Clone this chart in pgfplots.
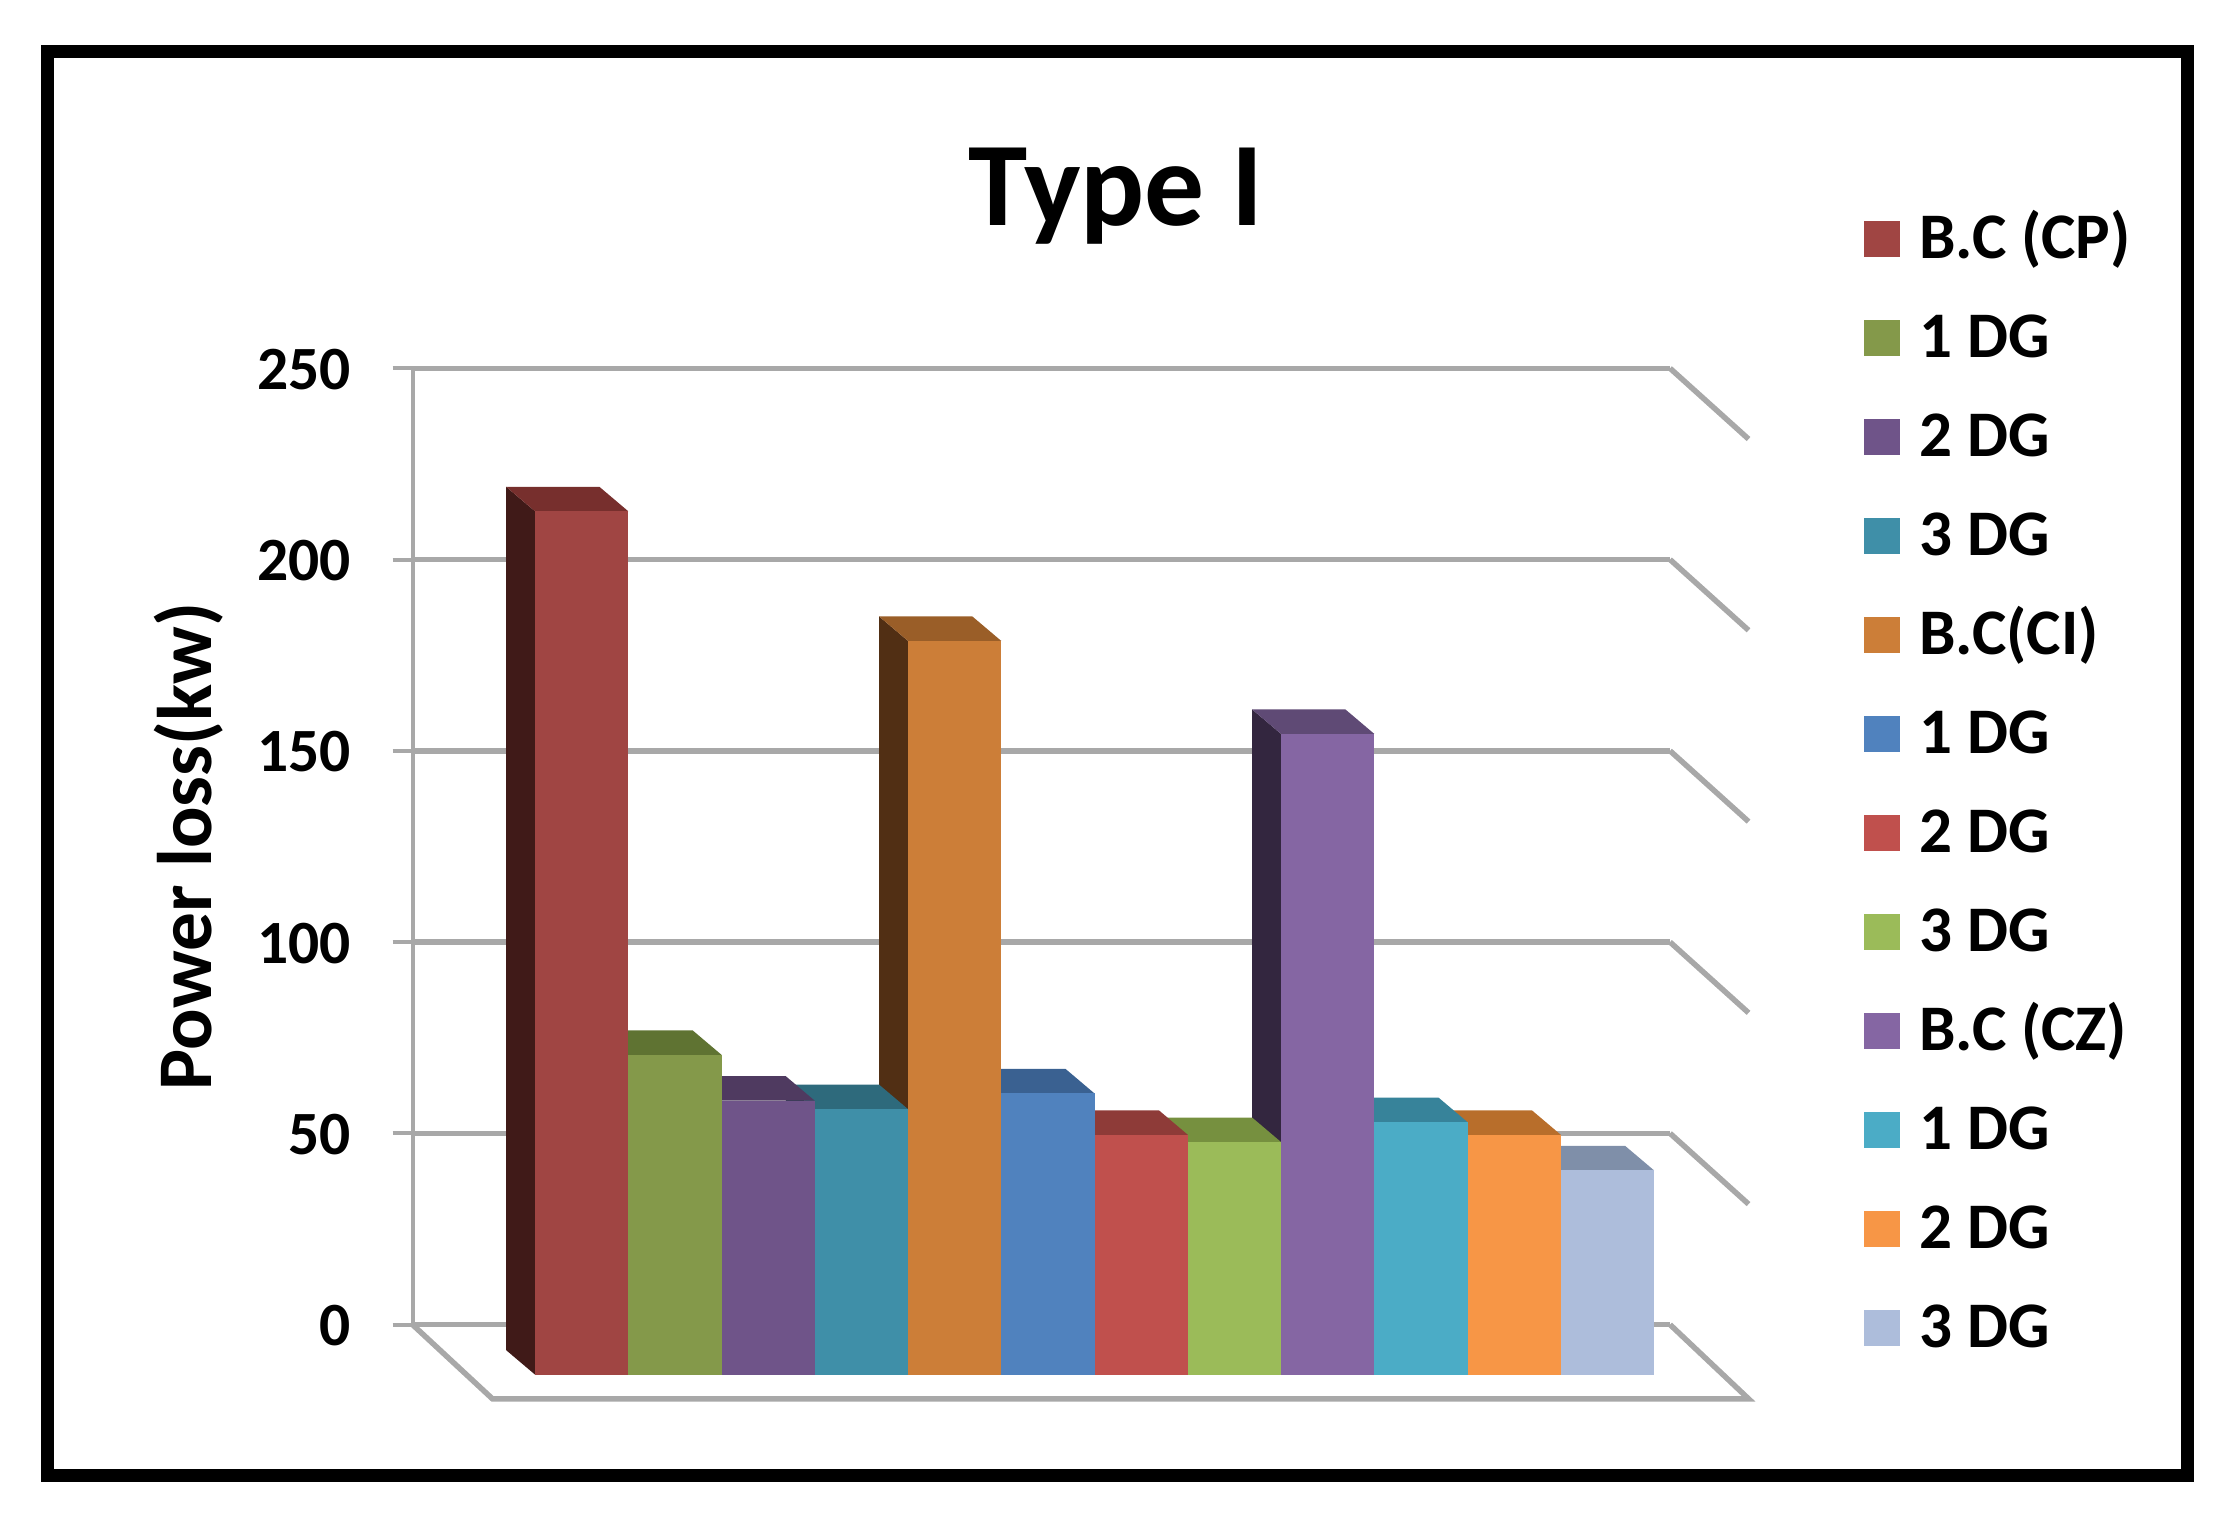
\documentclass[border=0pt]{standalone}
\usepackage{fontspec}
\setmainfont{Carlito}
\usepackage{pgfplots}
\pgfplotsset{compat=1.18}
\definecolor{gridc}{HTML}{A8A8A8}
\definecolor{fa}{HTML}{A04543}\definecolor{ta}{HTML}{772F2D}\definecolor{sa}{HTML}{401A18}
\definecolor{fb}{HTML}{84994A}\definecolor{tb}{HTML}{5F7332}\definecolor{sb}{HTML}{3F4D20}
\definecolor{fc}{HTML}{6F5489}\definecolor{tc}{HTML}{4F3A60}\definecolor{sc}{HTML}{30233B}
\definecolor{fd}{HTML}{3F8FA8}\definecolor{td}{HTML}{2E6A7C}\definecolor{sd}{HTML}{1C414D}
\definecolor{fe}{HTML}{CC7E38}\definecolor{te}{HTML}{9A5E28}\definecolor{se}{HTML}{512F14}
\definecolor{ff}{HTML}{5082BE}\definecolor{tf}{HTML}{3A6191}\definecolor{sf}{HTML}{233B58}
\definecolor{fg}{HTML}{C0504D}\definecolor{tg}{HTML}{8E3B38}\definecolor{sg}{HTML}{562322}
\definecolor{fh}{HTML}{9BBB59}\definecolor{th}{HTML}{76903F}\definecolor{sh}{HTML}{475726}
\definecolor{fi}{HTML}{8566A3}\definecolor{ti}{HTML}{5F4A75}\definecolor{si}{HTML}{33263F}
\definecolor{fj}{HTML}{4BACC6}\definecolor{tj}{HTML}{37839A}\definecolor{sj}{HTML}{21505E}
\definecolor{fk}{HTML}{F79646}\definecolor{tk}{HTML}{B86E2B}\definecolor{sk}{HTML}{70431A}
\definecolor{fl}{HTML}{ADBDDB}\definecolor{tl}{HTML}{7F8FA9}\definecolor{sl}{HTML}{4E5868}
% one 3-D column: index, value, front, top and side colours
\newcommand\threedbar[5]{%
  \pgfmathsetmacro\xa{#1}%
  \pgfmathsetmacro\xb{#1+1}%
  \pgfmathsetmacro\xc{#1-0.31}%
  \pgfmathsetmacro\xd{#1+1-0.31}%
  \pgfmathsetmacro\yt{#2+6.4}%
  \addplot[fill=#5,draw=none] coordinates {(\xa,0)(\xa,#2)(\xc,\yt)(\xc,6.4)} --cycle;
  \addplot[fill=#4,draw=none] coordinates {(\xa,#2)(\xb,#2)(\xd,\yt)(\xc,\yt)} --cycle;
  \addplot[fill=#3,draw=none] coordinates {(\xa,0)(\xb,0)(\xb,#2)(\xa,#2)} --cycle;
}
\begin{document}
\begin{tikzpicture}
\path[use as bounding box] (0,0) rectangle (22.38cm,15.33cm);
\draw[black,line width=1.3mm] (4.7mm,5.8mm) rectangle (218.7mm,148.1mm);
% wall, floor, ticks, title, legend
\begin{axis}[
  at={(41.25mm,20.84mm)},anchor=south west,scale only axis,
  width=125.75mm,height=95.63mm,
  xmin=0,xmax=881,ymin=0,ymax=250,clip=false,
  axis lines=left,
  x axis line style={draw=none},
  y axis line style={-,draw=gridc,line width=0.4mm},
  xtick=\empty,
  ytick={0,50,100,150,200,250},
  ymajorgrids,
  grid style={draw=gridc,line width=0.55mm},
  tick align=outside,
  major tick length=2mm,
  tick style={draw=gridc,line width=0.4mm},
  /pgf/number format/assume math mode=true,
  yticklabel style={font=\fontsize{17.5}{20}\selectfont\bfseries,text=black,inner sep=0pt,xshift=-4.1mm,yshift=-0.1mm},
  title={Type I},
  every axis title/.style={at={(rel axis cs:0.5596,1.18)},anchor=center,font=\fontsize{34}{38}\selectfont\bfseries},
  ylabel={Power loss(kw)},
  every axis y label/.style={at={(rel axis cs:-0.178,0.5)},rotate=90,anchor=center,font=\fontsize{22}{24}\selectfont\bfseries},
  legend cell align=left,
  legend style={at={(rel axis cs:1.154,1.1635)},anchor=north west,draw=none,fill=none,inner sep=0pt,
    row sep=3.5mm,column sep=0pt,
    nodes={inner sep=0pt,text height=4.6mm,text depth=1.8mm},
    font=\fontsize{18.5}{20}\selectfont\bfseries},
  legend image code/.code={\path[draw=none,fill=none] (0mm,-1.2mm) rectangle (5.5mm,2.4mm);\path[draw=none,#1] (0mm,-1.2mm) rectangle (3.6mm,2.4mm);},
]
\addplot[gridc,line width=0.55mm,forget plot] coordinates {(0,0)(56,-19.4)(936,-19.4)(881,0)};
\addplot[gridc,line width=0.55mm,forget plot] coordinates {(881,50)(936,31.5)};
\addplot[gridc,line width=0.55mm,forget plot] coordinates {(881,100)(936,81.5)};
\addplot[gridc,line width=0.55mm,forget plot] coordinates {(881,150)(936,131.5)};
\addplot[gridc,line width=0.55mm,forget plot] coordinates {(881,200)(936,181.5)};
\addplot[gridc,line width=0.55mm,forget plot] coordinates {(881,250)(936,231.5)};
\addlegendimage{fill=fa}\addlegendentry{B.C (CP)}
\addlegendimage{fill=fb}\addlegendentry{1 DG}
\addlegendimage{fill=fc}\addlegendentry{2 DG}
\addlegendimage{fill=fd}\addlegendentry{3 DG}
\addlegendimage{fill=fe}\addlegendentry{B.C(CI)}
\addlegendimage{fill=ff}\addlegendentry{1 DG}
\addlegendimage{fill=fg}\addlegendentry{2 DG}
\addlegendimage{fill=fh}\addlegendentry{3 DG}
\addlegendimage{fill=fi}\addlegendentry{B.C (CZ)}
\addlegendimage{fill=fj}\addlegendentry{1 DG}
\addlegendimage{fill=fk}\addlegendentry{2 DG}
\addlegendimage{fill=fl}\addlegendentry{3 DG}
\end{axis}
% columns, in the plane of their front faces
\begin{axis}[
  at={(53.5mm,15.84mm)},anchor=south west,scale only axis,
  width=111.9mm,height=95.63mm,
  xmin=0,xmax=12,ymin=0,ymax=250,clip=false,
  hide axis,
]
\threedbar{11}{53.4}{fl}{tl}{sl}
\threedbar{10}{62.7}{fk}{tk}{sk}
\threedbar{9}{66.0}{fj}{tj}{sj}
\threedbar{8}{167.5}{fi}{ti}{si}
\threedbar{7}{60.8}{fh}{th}{sh}
\threedbar{6}{62.7}{fg}{tg}{sg}
\threedbar{5}{73.5}{ff}{tf}{sf}
\threedbar{4}{191.8}{fe}{te}{se}
\threedbar{3}{69.4}{fd}{td}{sd}
\threedbar{2}{71.6}{fc}{tc}{sc}
\threedbar{1}{83.6}{fb}{tb}{sb}
\threedbar{0}{225.7}{fa}{ta}{sa}
\end{axis}
\end{tikzpicture}
\end{document}
